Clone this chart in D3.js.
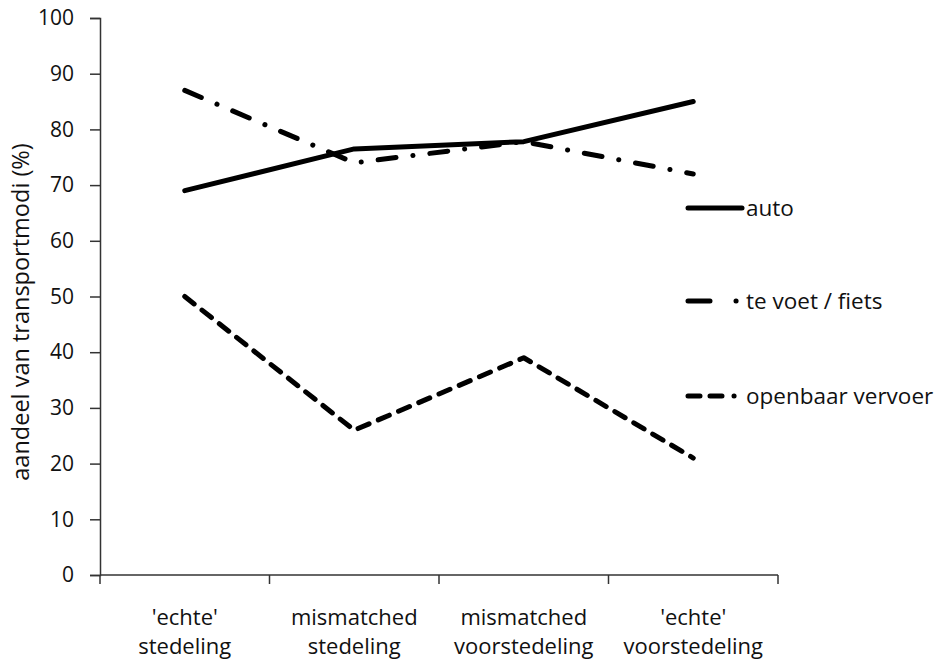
<!DOCTYPE html>
<html>
<head>
<meta charset="utf-8">
<script src="https://cdn.jsdelivr.net/npm/d3@7"></script>
<style>
  body { margin: 0; background: #fff; }
  text { font-family: "Open Sans", Lato, sans-serif; fill: #111; }
</style>
</head>
<body>
<script>
// chart data
var categories = ["'echte'|stedeling", "mismatched|stedeling", "mismatched|voorstedeling", "'echte'|voorstedeling"];
var auto = [69, 76.5, 77.8, 85];
var voetFiets = [87, 74, 77.8, 72];
var ov = [50, 26, 39, 21];
var yTicks = [0, 10, 20, 30, 40, 50, 60, 70, 80, 90, 100];
var seriesNames = ["auto", "te voet / fiets", "openbaar vervoer"];

var svgWidth = 946;
var svgHeight = 663;

var margin = { top: 18, right: 168, bottom: 88, left: 100 };
var width = svgWidth - margin.left - margin.right;
var height = svgHeight - margin.top - margin.bottom;

var svg = d3.select("body").append("svg")
  .attr("width", svgWidth)
  .attr("height", svgHeight);

var chartGroup = svg.append("g")
  .attr("transform", `translate(${margin.left}, ${margin.top})`);

var xScale = d3.scaleBand()
  .domain(categories)
  .range([0, width]);

var yScale = d3.scaleLinear()
  .domain([0, 100])
  .range([height, 0]);

// y axis
var leftAxis = d3.axisLeft(yScale).tickValues(yTicks).tickSize(10).tickPadding(16);
var yAxis = chartGroup.append("g").call(leftAxis);
yAxis.select(".domain").attr("stroke", "#333").attr("stroke-width", 1.5);
yAxis.selectAll(".tick line").attr("stroke", "#333").attr("stroke-width", 1.5);
yAxis.selectAll("text").style("font-size", "21px").style("font-family", "\"Open Sans\", sans-serif");

// x axis with ticks at band edges
var xAxis = chartGroup.append("g").attr("transform", `translate(0, ${height})`);
xAxis.append("line")
  .attr("x1", 0).attr("x2", width)
  .attr("stroke", "#333").attr("stroke-width", 1.5);
var edges = categories.map(d => xScale(d)).concat([width]);
xAxis.selectAll(".edge")
  .data(edges)
  .enter().append("line")
  .attr("class", "edge")
  .attr("x1", d => d).attr("x2", d => d)
  .attr("y1", 0).attr("y2", 9)
  .attr("stroke", "#333").attr("stroke-width", 1.5);

var xLabels = xAxis.selectAll(".xlab")
  .data(categories)
  .enter().append("text")
  .attr("class", "xlab")
  .attr("text-anchor", "middle")
  .style("font-size", "22px")
  .attr("transform", d => `translate(${xScale(d) + xScale.bandwidth() / 2}, 0)`);
xLabels.append("tspan").attr("x", 0).attr("y", 50).text(d => d.split("|")[0]);
xLabels.append("tspan").attr("x", 0).attr("y", 79).text(d => d.split("|")[1]);

// y label
chartGroup.append("text")
  .attr("transform", "rotate(-90)")
  .attr("x", -294)
  .attr("y", -71)
  .attr("text-anchor", "middle")
  .style("font-size", "23.5px")
  .text("aandeel van transportmodi (%)");

// lines
var styles = [
  { data: auto, dash: null },
  { data: voetFiets, dash: "18,17,0.1,17" },
  { data: ov, dash: "12,10" }
];

var line = d3.line()
  .x((d, i) => xScale(categories[i]) + xScale.bandwidth() / 2)
  .y(d => yScale(d));

styles.forEach(function (s) {
  chartGroup.append("path")
    .datum(s.data)
    .attr("d", line)
    .attr("fill", "none")
    .attr("stroke", "#000")
    .attr("stroke-width", 5)
    .attr("stroke-linecap", "round")
    .attr("stroke-linejoin", "round")
    .attr("stroke-dasharray", s.dash);
});

// legend
var legendY = [208, 301, 396];
var legendDash = [null, "22,26,0.1,20", "12,10,12,12,0.1,20"];
var legend = svg.append("g");
seriesNames.forEach(function (name, i) {
  legend.append("line")
    .attr("x1", 688).attr("x2", 742)
    .attr("y1", legendY[i]).attr("y2", legendY[i])
    .attr("stroke", "#000")
    .attr("stroke-width", 5)
    .attr("stroke-linecap", "round")
    .attr("stroke-dasharray", legendDash[i]);
  legend.append("text")
    .attr("x", 746)
    .attr("y", legendY[i])
    .attr("dy", "0.35em")
    .style("font-size", "22.5px")
    .text(name);
});
</script>
</body>
</html>
